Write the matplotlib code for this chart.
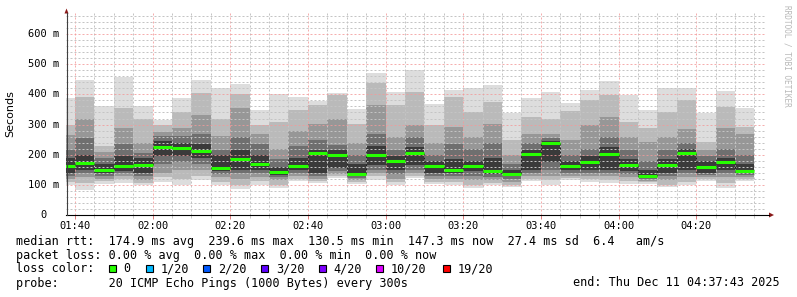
import matplotlib.pyplot as plt
from matplotlib.patches import Polygon, Rectangle
from matplotlib.lines import Line2D

# 5-minute bins (start time of each bin)
bin_start = ["01:35", "01:40", "01:45", "01:50", "01:55", "02:00", "02:05", "02:10", "02:15",
             "02:20", "02:25", "02:30", "02:35", "02:40", "02:45", "02:50", "02:55", "03:00",
             "03:05", "03:10", "03:15", "03:20", "03:25", "03:30", "03:35", "03:40", "03:45",
             "03:50", "03:55", "04:00", "04:05", "04:10", "04:15", "04:20", "04:25", "04:30"]

# median rtt per bin (ms)
median = [163, 172, 150, 162, 167, 227, 222, 213, 157, 186, 168, 142, 163, 204, 198, 135, 199, 180,
          204, 161, 150, 162, 145, 137, 201, 239.6, 161, 177, 201, 167, 130.5, 165, 204, 160, 176, 147.3]

# smoke bands, outer (u1/l1) to inner (u5/l5), ms
u1 = [389, 448, 361, 459, 361, 314, 387, 448, 420, 434, 348, 400, 392, 379, 406, 350, 471, 407,
      481, 367, 414, 421, 431, 339, 387, 408, 371, 414, 444, 398, 348, 420, 422, 339, 411, 356]
u2 = [300, 390, 228, 355, 320, 300, 342, 403, 320, 400, 298, 310, 348, 364, 398, 303, 437, 364,
      409, 300, 392, 342, 376, 248, 326, 318, 345, 381, 398, 310, 287, 342, 381, 242, 359, 292]
u3 = [265, 320, 210, 290, 240, 275, 287, 331, 262, 355, 270, 220, 280, 303, 320, 240, 364, 260,
      300, 240, 292, 260, 303, 200, 270, 270, 250, 298, 326, 260, 242, 260, 285, 215, 290, 270]
u4 = [215, 255, 190, 235, 205, 262, 262, 270, 215, 258, 237, 185, 230, 250, 231, 200, 270, 215,
      260, 200, 235, 220, 240, 170, 240, 255, 200, 220, 260, 215, 180, 215, 240, 195, 220, 200]
u5 = [190, 200, 170, 195, 190, 245, 240, 235, 200, 215, 200, 160, 190, 215, 215, 170, 230, 195,
      225, 180, 185, 180, 190, 150, 215, 245, 180, 195, 225, 185, 150, 185, 220, 180, 190, 170]
l5 = [140, 150, 140, 145, 140, 195, 195, 190, 145, 150, 150, 132, 148, 140, 155, 128, 165, 150,
      165, 140, 140, 145, 135, 128, 150, 175, 150, 150, 150, 145, 125, 140, 150, 140, 150, 140]
l4 = [130, 140, 130, 138, 128, 170, 175, 170, 135, 140, 140, 125, 140, 130, 145, 122, 150, 135,
      150, 130, 128, 130, 125, 120, 140, 150, 140, 140, 140, 135, 120, 130, 140, 132, 140, 133]
l3 = [120, 125, 120, 128, 115, 140, 150, 150, 125, 120, 125, 115, 130, 120, 137, 115, 140, 120,
      140, 120, 118, 115, 115, 110, 130, 130, 130, 130, 128, 125, 113, 115, 125, 125, 125, 125]
l2 = [110, 105, 112, 118, 105, 125, 120, 130, 110, 100, 113, 100, 120, 112, 130, 110, 128, 110,
      130, 110, 108, 100, 105, 100, 120, 115, 122, 118, 115, 112, 108, 100, 110, 118, 105, 120]
l1 = [101, 83, 103, 106, 98, 110, 98, 117, 98, 85, 101, 90, 112, 106, 123, 103, 117, 101,
      123, 103, 98, 90, 98, 94, 114, 98, 117, 109, 106, 103, 103, 92, 98, 112, 90, 114]

x_ticks = ["01:40", "02:00", "02:20", "02:40", "03:00", "03:20", "03:40", "04:00", "04:20"]
y_ticks = [0, 100, 200, 300, 400, 500, 600]
y_labels = ["0", "100 m", "200 m", "300 m", "400 m", "500 m", "600 m"]

loss_labels = ["0", "1/20", "2/20", "3/20", "4/20", "10/20", "19/20"]
loss_colors = ["#26ff00", "#00b8ff", "#0059ff", "#5e00ff", "#7e00ff", "#dd00ff", "#ff0000"]

t_start, t_end = "01:37:43", "04:37:43"


def minutes(s):
    parts = [int(p) for p in s.split(":")]
    while len(parts) < 3:
        parts.append(0)
    return parts[0] * 60 + parts[1] + parts[2] / 60


W, H = 797, 297
MONO = "DejaVu Sans Mono"

fig = plt.figure(figsize=(W / 100, H / 100), dpi=100)
fig.patch.set_facecolor("white")
ax = fig.add_axes([66 / W, 82 / H, 699 / W, 202 / H])
ax.set_facecolor("white")

left = [minutes(s) for s in bin_start]
bands = [(l1, u1, "#dddddd"), (l2, u2, "#bababa"), (l3, u3, "#979797"),
         (l4, u4, "#6f6f6f"), (l5, u5, "#3a3a3a")]
for lo, hi, col in bands:
    ax.bar(left, [h - l for l, h in zip(lo, hi)], bottom=lo, width=5, align="edge",
           color=col, linewidth=0, zorder=1)

# median: dark step connectors + green segments
for i, m in enumerate(median):
    if i > 0:
        ax.vlines(left[i], median[i - 1], m, color="#202020", linewidth=0.72,
                  linestyle=(0, (2, 2)), zorder=3)
    ax.hlines(m, left[i], left[i] + 5, color=loss_colors[0], linewidth=2.2, zorder=4)

ax.set_xlim(minutes(t_start), minutes(t_end))
ax.set_ylim(0, 670)

xt = [minutes(s) for s in x_ticks]
ax.set_xticks(xt)
ax.set_xticklabels(x_ticks, family=MONO, fontsize=7.5)
ax.set_xticks([minutes("01:40") + 5 * k for k in range(36) if minutes("01:40") + 5 * k <= 277], minor=True)
ax.set_yticks(y_ticks)
ax.set_yticklabels([])
ax.set_yticks(range(20, 670, 20), minor=True)

ax.tick_params(axis="x", which="major", length=3, width=0.72, color="#e08080", pad=1.5,
               labelcolor="#000000")
ax.tick_params(axis="x", which="minor", length=2, width=0.6, color="#c0c0c0")
ax.tick_params(axis="y", which="both", length=0)

ax.grid(which="minor", color="#c4c4c4", linewidth=0.72, linestyle=(0, (2, 2)))
ax.grid(which="major", color="#f39a9a", linewidth=0.72, linestyle=(0, (2, 2)))
ax.set_axisbelow(False)
for gl in ax.get_xgridlines() + ax.get_ygridlines():
    gl.set_zorder(2)
    gl.set_snap(True)
    gl.set_alpha(0.8)

for side in ["top", "right", "left", "bottom"]:
    ax.spines[side].set_visible(False)


def fx(x):
    return x / W


def fy(y):
    return 1 - y / H


# axes lines with arrows
fig.add_artist(Line2D([fx(66), fx(769)], [fy(215), fy(215)], color="#000000", linewidth=0.8))
fig.add_artist(Line2D([fx(66.5), fx(66.5)], [fy(215), fy(13)], color="#404040", linewidth=0.8))
fig.add_artist(Polygon([[fx(769), fy(212.5)], [fx(769), fy(217.5)], [fx(774), fy(215)]],
                       closed=True, transform=fig.transFigure, color="#8b1a1a", linewidth=0))
fig.add_artist(Polygon([[fx(64.5), fy(13.5)], [fx(68.5), fy(13.5)], [fx(66.5), fy(8.5)]],
                       closed=True, transform=fig.transFigure, color="#8b1a1a", linewidth=0))

# y tick labels
for v, lab in zip(y_ticks, y_labels):
    ypx = 215 - v * (202 / 670)
    xr = 59 if lab != "0" else 47
    fig.text(fx(xr), fy(ypx), lab, ha="right", va="center", family=MONO, fontsize=7.5)

fig.text(fx(10), fy(114), "Seconds", rotation=90, ha="center", va="center",
         family="DejaVu Sans", fontsize=8)
fig.text(fx(787), fy(5), "RRDTOOL / TOBI OETIKER", rotation=270, ha="center", va="top",
         family=MONO, fontsize=5.6, color="#b8b8b8")

# legend lines
fs = 8.5
fig.text(fx(16), fy(241), "median rtt:  174.9 ms avg  239.6 ms max  130.5 ms min  147.3 ms now"
         "  27.4 ms sd  6.4   am/s", ha="left", va="center", family=MONO, fontsize=fs)
fig.text(fx(16), fy(255), "packet loss: 0.00 % avg  0.00 % max  0.00 % min  0.00 % now",
         ha="left", va="center", family=MONO, fontsize=fs)
fig.text(fx(16), fy(268.5), "loss color:", ha="left", va="center", family=MONO, fontsize=fs)
sq_x = [109, 145.7, 203.3, 261, 319, 376, 442.7]
lab_x = [123, 160.7, 218.3, 276, 333, 390.7, 457.3]
for sx, lx, lab, col in zip(sq_x, lab_x, loss_labels, loss_colors):
    fig.add_artist(Rectangle((fx(sx), fy(272)), 7 / W, 7 / H, transform=fig.transFigure,
                             facecolor=col, edgecolor="#000000", linewidth=0.8))
    fig.text(fx(lx), fy(268.5), lab, ha="left", va="center", family=MONO, fontsize=fs)
fig.text(fx(16), fy(283), "probe:       20 ICMP Echo Pings (1000 Bytes) every 300s",
         ha="left", va="center", family=MONO, fontsize=fs)
fig.text(fx(780), fy(283), "end: Thu Dec 11 04:37:43 2025", ha="right", va="center",
         family=MONO, fontsize=fs)

fig.savefig("out.png", dpi=100)
